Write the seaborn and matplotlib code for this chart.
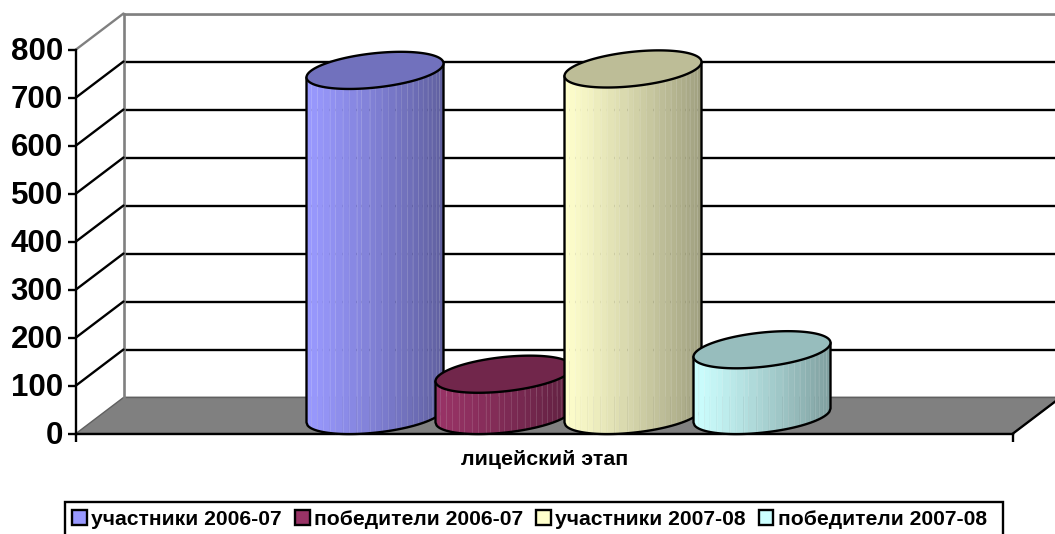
import numpy as np
import pandas as pd
import matplotlib
matplotlib.use("Agg")
import matplotlib.pyplot as plt
from matplotlib.patches import Polygon, Patch, Rectangle
from matplotlib.transforms import ScaledTranslation
import seaborn as sns

stage = "лицейский этап"
series = ["участники 2006-07", "победители 2006-07", "участники 2007-08", "победители 2007-08"]
values = [719, 86, 722, 137]
colors = ["#9999FF", "#993366", "#FFFFCC", "#CCFFFF"]
yticks = [0, 100, 200, 300, 400, 500, 600, 700, 800]

W, H = 1055, 534
sns.set_theme(style="white")
plt.rcParams["font.family"] = ["Liberation Sans", "DejaVu Sans"]
plt.rcParams["font.weight"] = "bold"
plt.rcParams["text.color"] = "black"
fig = plt.figure(figsize=(W / 100, H / 100), dpi=100)


def rect(left, top, right, bottom):
    return [left / W, 1 - bottom / H, (right - left) / W, (bottom - top) / H]


LW = 1.7

# back wall and floor
wall = fig.add_axes(rect(123.5, 13.5, 1060.5, 397.5), zorder=1)
wall.set_xlim(-0.5, 0.5)
wall.set_ylim(0, 800)
wall.set_xticks([])
wall.set_yticks(yticks)
wall.tick_params(left=False, labelleft=False)
wall.grid(axis="y", color="black", lw=LW)
for name, sp in wall.spines.items():
    sp.set_color("#808080")
    sp.set_linewidth(LW + 0.2)
    sp.set_visible(name in ("left", "top"))
ddx = 47.5 / 937
ddy = 36 * 800 / 384
wall.add_patch(Polygon([(-0.5, 0), (0.5, 0), (0.5 - ddx, -ddy), (-0.5 - ddx, -ddy)],
                       closed=True, fc="#808080", ec="#606060", lw=1, clip_on=False, zorder=1))
for v in yticks[1:-1]:
    wall.plot([-0.5 - ddx, -0.5], [v - ddy, v], color="black", lw=LW, clip_on=False, zorder=3)
wall.plot([-0.5 - ddx, -0.5], [800 - ddy, 800], color="#808080", lw=LW, clip_on=False, zorder=3)
wall.plot([0.5 - ddx, 0.5], [-ddy, 0], color="black", lw=LW, clip_on=False, zorder=3)

# front axes
main = fig.add_axes(rect(76, 49.5, 1013, 434), zorder=2, facecolor="none")
main.set_xlim(-0.5, 0.5)
main.set_ylim(0, 800)
main.set_yticks(yticks)
main.set_xticks([0])
main.set_xticklabels([stage], fontsize=15.4, fontweight="bold")
main.set_xticks([-0.5, 0.5], minor=True)
main.tick_params(axis="x", which="major", length=0, pad=11.7, labelcolor="black")
main.tick_params(axis="x", which="minor", bottom=True, length=6, width=LW, color="black")
main.tick_params(axis="y", left=True, length=6, width=LW, color="black", pad=3.5,
                 labelsize=22.5, labelcolor="black")
for lab in main.get_yticklabels():
    lab.set_fontweight("bold")
    lab.set_transform(lab.get_transform() + ScaledTranslation(0, 1 / 100, fig.dpi_scale_trans))
for name, sp in main.spines.items():
    sp.set_visible(name in ("left", "bottom"))
    sp.set_color("black")
    sp.set_linewidth(LW)

# cylinders: seaborn bars on the mid-depth plane
ax = fig.add_axes(rect(100, 31.5, 1037, 415.5), zorder=3, facecolor="none")
df = pd.DataFrame({"этап": [stage] * 4, "серия": series, "значение": values})
sns.barplot(data=df, x="этап", y="значение", hue="серия", palette=colors, hue_order=series,
            width=516 / 937, gap=0, legend=False, ax=ax)
ax.set_xlim(-0.5, 0.5)
ax.set_ylim(0, 800)
ax.set_axis_off()

bar_w = 137 / 937
py = 800 / 384  # data units per px
shear = 7 * py
semi = 17.2 * py
bars = sorted([p for p in ax.patches if p.get_height() > 0], key=lambda p: p.get_x())
edges = np.array([-1, -.93, -.84, -.76, -.66, -.58, -.47, -.38, -.27, -.2, -.08, 0, .1, .19, .3, .38,
                  .47, .55, .63, .7, .77, .83, .89, .94, 1])
tt = np.linspace(0, 2 * np.pi, 181)
for i, (bar, col) in enumerate(zip(bars, colors)):
    cx = bar.get_x() + bar.get_width() / 2
    h = bar.get_height()
    bar.set_x(cx - bar_w / 2)
    bar.set_width(bar_w)
    bar.set_facecolor("none")
    bar.set_edgecolor("none")
    base = np.array(matplotlib.colors.to_rgb(col))
    z = 10 + i * 5
    for a, b in zip(edges[:-1], edges[1:]):
        u = np.linspace(a, b, 8)
        xs = cx + u * bar_w / 2
        low = shear * u - semi * np.sqrt(np.clip(1 - u ** 2, 0, 1))
        top = h + shear * u
        m = (a + b) / 2
        shade = base * (1 - 0.38 * ((m + 1) / 2) ** 1.15)
        ax.fill(np.r_[xs, xs[::-1]], np.r_[low, top[::-1]], color=shade, lw=0.3,
                clip_on=False, zorder=z)
        ax.plot([xs[0], xs[0]], [low[0], top[0]], color="white", alpha=0.12, lw=0.7,
                clip_on=False, zorder=z)
    u = np.linspace(-1, 1, 121)
    xs = cx + u * bar_w / 2
    low = shear * u - semi * np.sqrt(1 - u ** 2)
    ox = np.r_[xs[0], xs, xs[-1]]
    oy = np.r_[h + shear * u[0], low, h + shear * u[-1]]
    ax.plot(ox, oy, color="black", lw=LW, clip_on=False, zorder=z + 1)
    ax.fill(cx + np.cos(tt) * bar_w / 2, h + shear * np.cos(tt) + semi * np.sin(tt),
            fc=base * 0.74, ec="black", lw=LW, clip_on=False, zorder=z + 2)

# legend: box runs off the bottom edge of the picture
fig.add_artist(Rectangle((65 / W, -4 / H), 938 / W, (H + 4 - 501.5) / H, transform=fig.transFigure,
                         fc="white", ec="black", lw=LW, zorder=9, clip_on=False))
handles = [Patch(fc=c, ec="black", lw=LW, label=s) for c, s in zip(colors, series)]
leg = fig.legend(handles=handles, loc="upper left", bbox_to_anchor=(64 / W, 1 - 501.5 / H),
                 bbox_transform=fig.transFigure, ncol=4, frameon=False,
                 prop={"weight": "bold", "size": 15.2},
                 labelcolor="black", handlelength=0.68, handleheight=0.68, handletextpad=0.2,
                 columnspacing=0.64, borderaxespad=0, borderpad=0.4)
leg.set_zorder(10)

fig.savefig("out.png", dpi=100)
